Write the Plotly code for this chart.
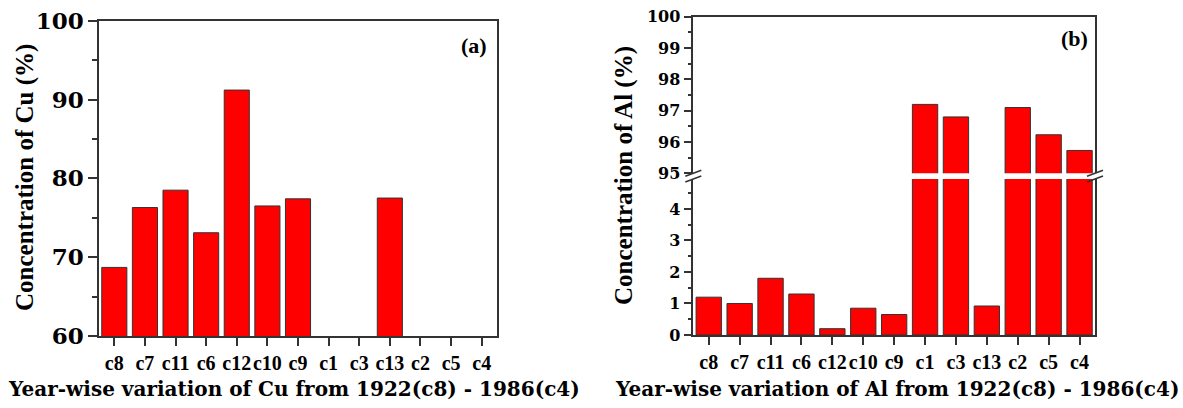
import plotly.graph_objects as go

# ---- data ----
categories = ["c8", "c7", "c11", "c6", "c12", "c10", "c9", "c1", "c3", "c13", "c2", "c5", "c4"]
cu_values = [68.7, 76.3, 78.5, 73.1, 91.2, 76.5, 77.4, None, None, 77.5, None, None, None]
al_values = [1.2, 1.0, 1.8, 1.3, 0.2, 0.85, 0.65, 97.2, 96.8, 0.92, 97.1, 96.23, 95.73]
cu_ticks = [60, 70, 80, 90, 100]
al_low_ticks = [0, 1, 2, 3, 4]
al_high_ticks = [95, 96, 97, 98, 99, 100]

W, H = 1183, 408
SERIF = "Liberation Serif"
WIDE = "DejaVu Serif"
LC = "#333333"
RED = "#ff0000"


def px(x):
    return x / W


def py(y):
    return 1 - y / H


fig = go.Figure()
bar_style = dict(marker=dict(color=RED, line=dict(color=LC, width=1)), width=0.82, showlegend=False)
fig.add_trace(go.Bar(x=categories, y=cu_values, xaxis="x", yaxis="y", **bar_style))
fig.add_trace(go.Bar(x=categories, y=al_values, xaxis="x2", yaxis="y2", **bar_style))
fig.add_trace(go.Bar(x=categories, y=al_values, xaxis="x3", yaxis="y3", **bar_style))

xcommon = dict(type="category", categoryorder="array", categoryarray=categories,
               range=[-0.5, len(categories) - 0.5], showgrid=False, zeroline=False,
               linecolor=LC, linewidth=1.5, automargin=False, tickangle=0,
               tickfont=dict(family=SERIF, size=20, color="black", weight="bold"))
ycommon = dict(showgrid=False, zeroline=False, showline=True, mirror=True,
               linecolor=LC, linewidth=1.5, ticks="outside", tickcolor=LC, tickwidth=1.5,
               automargin=False, tickmode="array")

fig.update_layout(
    width=W, height=H, margin=dict(l=0, r=0, t=0, b=0),
    paper_bgcolor="white", plot_bgcolor="white", bargap=0.18,
    xaxis=dict(domain=[px(99), px(497)], anchor="y", showline=True, mirror=True,
               ticks="outside", ticklen=8, tickwidth=1.5, tickcolor=LC, **xcommon),
    yaxis=dict(domain=[py(336), py(20.7)], anchor="x", range=[60, 100], tickvals=cu_ticks,
               ticklen=9, minor=dict(dtick=5, ticklen=5, ticks="outside", tickcolor=LC, tickwidth=1.5),
               tickfont=dict(family=WIDE, size=23, color="black", weight="bold"), **ycommon),
    xaxis2=dict(domain=[px(693.3), px(1095)], anchor="y2", showline=True, mirror=False,
                ticks="outside", ticklen=8, tickwidth=1.5, tickcolor=LC, **xcommon),
    yaxis2=dict(domain=[py(335), py(179)], anchor="x2", range=[0, 4.95], tickvals=al_low_ticks,
                ticklen=8, minor=dict(dtick=0.5, ticklen=4, ticks="outside", tickcolor=LC, tickwidth=1.5),
                tickfont=dict(family=WIDE, size=16, color="black", weight="bold"), **ycommon),
    xaxis3=dict(domain=[px(693.3), px(1095)], anchor="y3", side="top", showline=True, mirror=False,
                ticks="", showticklabels=False, **xcommon),
    yaxis3=dict(domain=[py(173.3), py(16.7)], anchor="x3", range=[95, 100], tickvals=al_high_ticks,
                ticklen=8, minor=dict(dtick=0.5, ticklen=4, ticks="outside", tickcolor=LC, tickwidth=1.5),
                tickfont=dict(family=WIDE, size=16, color="black", weight="bold"), **ycommon),
)

# axis break marks
for xc in (693.3, 1095):
    for yc in (173.3, 179):
        fig.add_shape(type="line", xref="paper", yref="paper",
                      x0=px(xc - 8), y0=py(yc + 3), x1=px(xc + 8), y1=py(yc - 3),
                      line=dict(color=LC, width=1.5))

xt_font = dict(family=WIDE, size=20, color="black", weight="bold")
yt_font = dict(family=SERIF, size=25, color="black", weight="bold")
lab_font = dict(family=SERIF, size=22, color="black", weight="bold")
ann = [
    dict(text="Year-wise variation of Cu from 1922(c8) - 1986(c4)", x=px(294), y=py(389), font=xt_font),
    dict(text="Year-wise variation of Al from 1922(c8) - 1986(c4)", x=px(897), y=py(389), font=xt_font),
    dict(text="Concentration of Cu (%)", x=px(25), y=py(178), textangle=-90, font=yt_font),
    dict(text="Concentration of Al (%)", x=px(624), y=py(176), textangle=-90, font=yt_font),
    dict(text="(a)", x=px(474), y=py(45), font=lab_font),
    dict(text="(b)", x=px(1074), y=py(38), font=lab_font),
]
for a in ann:
    fig.add_annotation(xref="paper", yref="paper", showarrow=False,
                       xanchor="center", yanchor="middle", **a)

fig.write_html("out.html")
